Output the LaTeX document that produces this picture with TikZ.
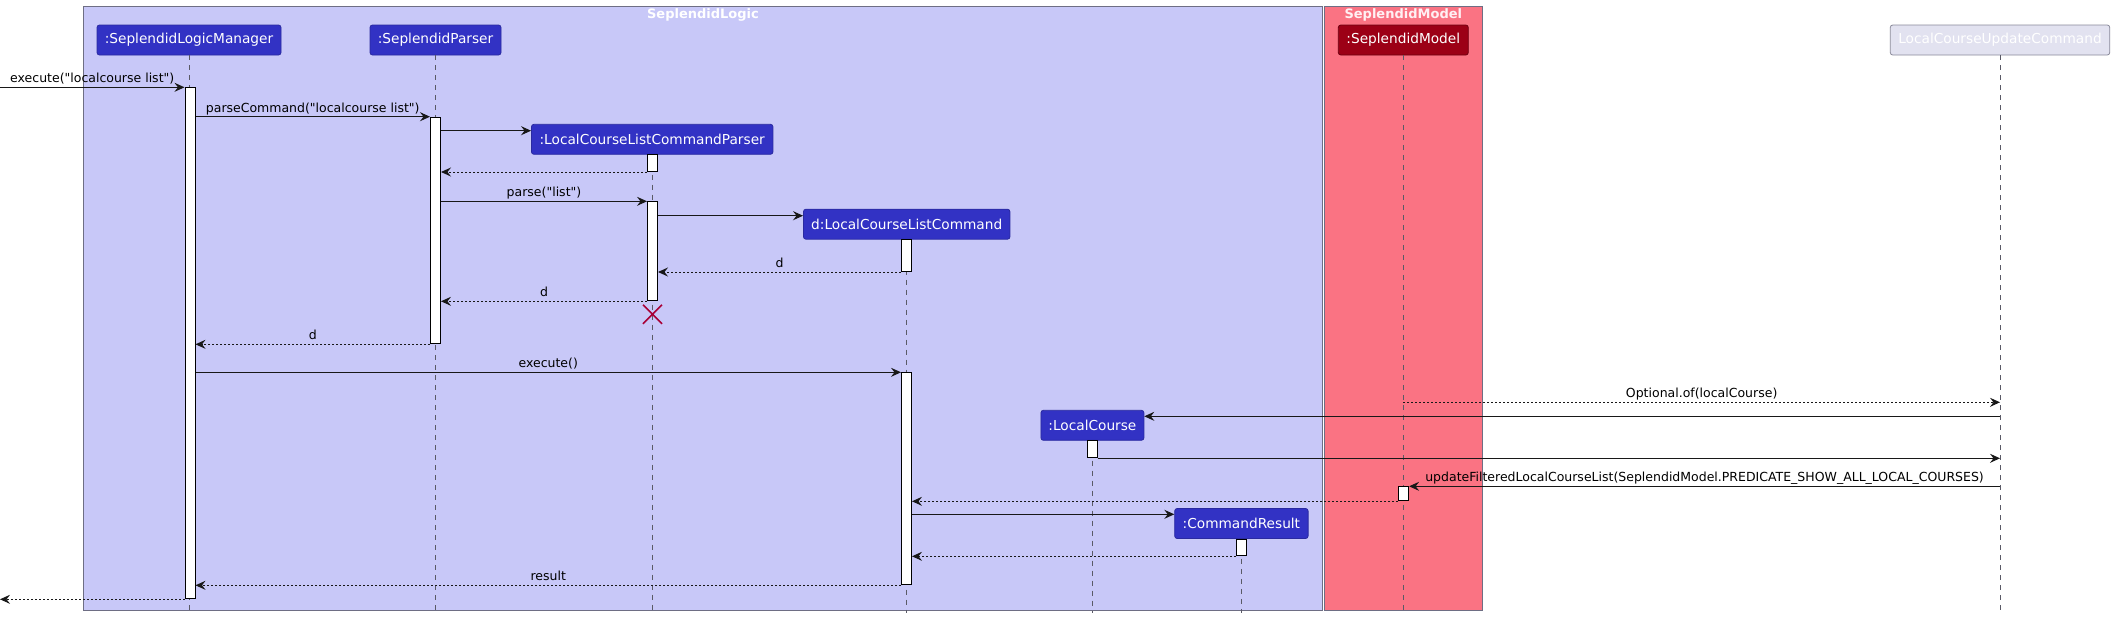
\documentclass[tikz,border=0pt]{standalone}
\usepackage{fontspec}
\newfontfamily\dv{DejaVu Sans}
\usetikzlibrary{arrows.meta}
\definecolor{logicbg}{HTML}{C8C8F8}
\definecolor{modelbg}{HTML}{FA7383}
\definecolor{grpborder}{HTML}{6E6E84}
\definecolor{partblue}{HTML}{3232C4}
\definecolor{partblueb}{HTML}{2A2AA0}
\definecolor{partred}{HTML}{9C0016}
\definecolor{partredb}{HTML}{6E0010}
\definecolor{partgray}{HTML}{E2E2F0}
\definecolor{partgrayb}{HTML}{8A8A9A}
\definecolor{lifecol}{HTML}{5A5A66}
\definecolor{arrowcol}{HTML}{181818}
\definecolor{killcol}{HTML}{A80036}
\definecolor{modeltitle}{HTML}{FFF0F3}
\tikzset{
  part/.style={rectangle, rounded corners=2.5pt, minimum height=30pt, inner sep=0pt,
    text=white, font=\dv\fontsize{13.7}{16}\selectfont, line width=0.8pt},
  bluepart/.style={part, fill=partblue, draw=partblueb},
  redpart/.style={part, fill=partred, draw=partredb},
  graypart/.style={part, fill=partgray, draw=partgrayb},
  grp/.style={draw=grpborder, line width=0.9pt},
  grptitle/.style={font=\dv\fontsize{13}{15}\selectfont\bfseries, anchor=base, inner sep=0pt},
  life/.style={draw=lifecol, line width=0.8pt, dash pattern=on 5pt off 5pt},
  actbox/.style={rectangle, draw=black, fill=white, line width=1pt, inner sep=0pt,
    minimum width=10pt, anchor=north},
  msg/.style={draw=arrowcol, line width=1pt, -{Stealth[length=10pt,width=9pt,inset=3.5pt]}},
  ret/.style={msg, dash pattern=on 2pt off 2pt},
  lbl/.style={font=\dv\fontsize{12.5}{15}\selectfont, anchor=base, inner sep=0pt, yshift=4.5pt, text=black},
}
\begin{document}
\begin{tikzpicture}[x=1pt,y=-1pt]
\useasboundingbox (0,0) rectangle (2115,622);
\fill[white] (0,0) rectangle (2115,622);

% groups
\draw[grp, fill=logicbg] (83.5,6) rectangle (1322.6,610.3);
\node[grptitle, text=white] (gLogic) at (703,18) {SeplendidLogic};
\draw[grp, fill=modelbg] (1324.5,6) rectangle (1482.2,610.3);
\node[grptitle, text=modeltitle] (gModel) at (1403.3,18) {SeplendidModel};

% participants
\node[bluepart, minimum width=184pt] (LM) at (189,40) {:SeplendidLogicManager};
\node[bluepart, minimum width=131pt] (P) at (435.5,40) {:SeplendidParser};
\node[bluepart, minimum width=241.5pt] (Q) at (652.2,139.3) {:LocalCourseListCommandParser};
\node[bluepart, minimum width=206.5pt] (D) at (906.7,224.2) {d:LocalCourseListCommand};
\node[redpart, minimum width=130pt] (SM) at (1403.3,40) {:SeplendidModel};
\node[graypart, minimum width=219.5pt] (U) at (2000,40) {LocalCourseUpdateCommand};
\node[bluepart, minimum width=103pt] (LC) at (1092.4,425.3) {:LocalCourse};
\node[bluepart, minimum width=133.4pt] (CR) at (1241.4,523.5) {:CommandResult};

% helper coordinates
\coordinate (yEnd) at (0,613);
\coordinate (yOpt) at (0,402.3);
\coordinate (edgeL) at (0,300);
\coordinate (qIn) at ([yshift=8.6pt]Q.west);
\coordinate (dIn) at ([yshift=8.5pt]D.west);
\coordinate (lcIn) at ([yshift=9pt]LC.east);
\coordinate (crIn) at ([yshift=9.2pt]CR.west);

% lifelines
\foreach \p in {LM,P,Q,D,SM,U,LC,CR}{
  \draw[life] (\p.south) -- (\p.south |- yEnd);
}

% activations
\node[actbox, minimum height=511pt] (aLM) at (190,87.3) {};
\node[actbox, minimum height=226.6pt] (aP) at (435.5,116.7) {};
\node[actbox, minimum height=16.7pt] (aQ1) at (652.5,154.3) {};
\node[actbox, minimum height=99pt] (aQ2) at (652.5,201.3) {};
\node[actbox, minimum height=32pt] (aD1) at (906.5,239) {};
\node[actbox, minimum height=212pt] (aD2) at (906.5,372.3) {};
\node[actbox, minimum height=17pt] (aLC) at (1092.4,440.3) {};
\node[actbox, minimum height=14pt] (aSM) at (1403.6,486.3) {};
\node[actbox, minimum height=16.6pt] (aCR) at (1241.5,538.7) {};

% messages
\draw[msg] (edgeL |- aLM.north west) -- node[lbl] {execute("localcourse list")} (aLM.north west);
\draw[msg] (aLM.east |- aP.north) -- node[lbl] {parseCommand("localcourse list")} (aP.north west);
\draw[msg] (aP.east |- qIn) -- (qIn);
\draw[ret] (aQ1.south west) -- (aP.east |- aQ1.south);
\draw[msg] (aP.east |- aQ2.north) -- node[lbl] {parse("list")} (aQ2.north west);
\draw[msg] (aQ2.east |- dIn) -- (dIn);
\draw[ret] (aD1.south west) -- node[lbl] {d} (aQ2.east |- aD1.south);
\draw[ret] (aQ2.south west) -- node[lbl] {d} (aP.east |- aQ2.south);
\draw[ret] (aP.south west) -- node[lbl] {d} (aLM.east |- aP.south);
\draw[msg] (aLM.east |- aD2.north) -- node[lbl] {execute()} (aD2.north west);
\draw[ret] (SM.south |- yOpt) -- node[lbl] {Optional.of(localCourse)} (U.south |- yOpt);
\draw[msg] (U.south |- lcIn) -- (lcIn);
\draw[msg] (aLC.south east) -- (U.south |- aLC.south);
\draw[msg] (U.south |- aSM.north) -- node[lbl] {updateFilteredLocalCourseList(SeplendidModel.PREDICATE\_SHOW\_ALL\_LOCAL\_COURSES)} (aSM.north east);
\draw[ret] (aSM.south west) -- (aD2.east |- aSM.south);
\draw[msg] (aD2.east |- crIn) -- (crIn);
\draw[ret] (aCR.south west) -- (aD2.east |- aCR.south);
\draw[ret] (aD2.south west) -- node[lbl] {result} (aLM.east |- aD2.south);
\draw[ret] (aLM.south west) -- (edgeL |- aLM.south west);

% destruction
\coordinate (kill) at (652.5,314.3);
\draw[killcol, line width=1.6pt] ([shift={(-9.5pt,-9.5pt)}]kill) -- ([shift={(9.5pt,9.5pt)}]kill)
  ([shift={(-9.5pt,9.5pt)}]kill) -- ([shift={(9.5pt,-9.5pt)}]kill);
\end{tikzpicture}
\end{document}
